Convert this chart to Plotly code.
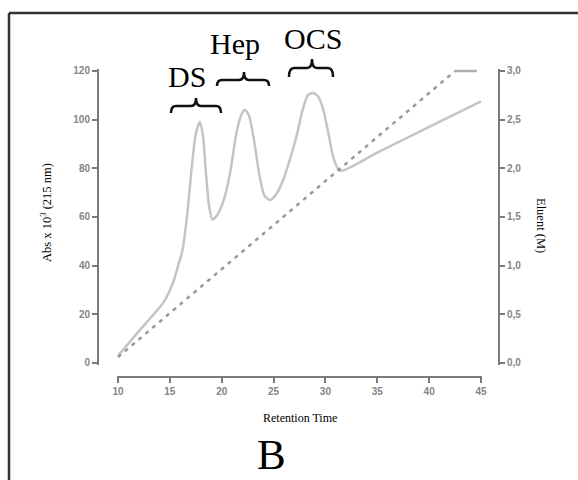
import plotly.graph_objects as go

# ---------------- data ----------------
time_abs = [10, 12, 14.4, 15.3, 15.8, 16.2, 16.7, 17.1, 17.5, 17.9, 18.2, 18.5, 18.8, 19.1,
            19.6, 20.2, 20.8, 21.4, 21.8, 22.2, 22.6, 23.1, 23.6, 24.1, 24.6,
            25.2, 26.0, 26.6, 27.2, 27.8, 28.3, 28.8, 29.3, 29.8, 30.3, 30.8, 31.4,
            35, 40, 45]
absorbance = [3, 13, 25, 33, 40, 46, 62, 80, 94, 99, 93, 77, 64, 59,
              61, 67, 78, 94, 101, 104, 102, 92, 78, 69, 67,
              69, 76, 84, 93, 104, 110, 111, 109.5, 104, 94, 84, 79,
              86.5, 97, 107.5]

time_grad = [10, 42.5]
eluent_grad = [0.06, 3.0]
time_plateau = [42.5, 44.6]
eluent_plateau = [3.0, 3.0]

x_ticks = [10, 15, 20, 25, 30, 35, 40, 45]
y_ticks = [0, 20, 40, 60, 80, 100, 120]
y2_ticks = [0.0, 0.5, 1.0, 1.5, 2.0, 2.5, 3.0]

peak_labels = ["DS", "Hep", "OCS"]

# ---------------- layout helpers (pixel -> paper) ----------------
W, H = 578, 480
def px(x):
    return x / W
def py(y):
    return (H - y) / H

# x: 10 -> 118 px, 45 -> 481 px ; y: 0 -> 363 px, 120 -> 71 px
xr = [9.9, 45.1]
xs = (481 - 118) / 35.0
x_dom = [px(118 + (xr[0] - 10) * xs), px(118 + (xr[1] - 10) * xs)]
yr = [-1, 121]
ys = (363 - 71) / 120.0
y_dom = [py(363 - (yr[0]) * ys), py(363 - (yr[1]) * ys)]
y2r = [yr[0] / 40.0, yr[1] / 40.0]

fig = go.Figure()
fig.add_trace(go.Scatter(x=time_abs, y=absorbance, mode="lines",
                         line=dict(color="#c4c4c4", width=2.5, shape="spline", smoothing=0.7),
                         showlegend=False, hoverinfo="skip"))
fig.add_trace(go.Scatter(x=time_grad, y=eluent_grad, mode="lines", yaxis="y2",
                         line=dict(color="#9a9a9a", width=2.5, dash="4px,5px"),
                         showlegend=False, hoverinfo="skip"))
fig.add_trace(go.Scatter(x=time_plateau, y=eluent_plateau, mode="lines", yaxis="y2",
                         line=dict(color="#b0b0b0", width=2.5),
                         showlegend=False, hoverinfo="skip"))

tickfont = dict(family="Liberation Sans, Arial, sans-serif", size=10, color="#858585", weight="bold")
axis_common = dict(showgrid=False, zeroline=False, showline=True, linecolor="#7a7a7a",
                   linewidth=2, ticks="outside", ticklen=5, tickwidth=2, tickcolor="#7a7a7a",
                   tickfont=tickfont, automargin=False)

fig.update_layout(
    width=W, height=H, autosize=False,
    margin=dict(l=0, r=0, t=0, b=0, pad=0),
    paper_bgcolor="white", plot_bgcolor="white",
    separators=",.",
    xaxis=dict(domain=x_dom, range=xr, anchor="free", position=py(377),
               tickvals=x_ticks, **axis_common),
    yaxis=dict(domain=y_dom, range=yr, anchor="free", position=px(98),
               tickvals=y_ticks, **axis_common),
    yaxis2=dict(range=y2r, overlaying="y", side="right", anchor="free", position=px(499),
                tickvals=y2_ticks, tickformat=".1f", **axis_common),
)

serif = "Liberation Serif, Times New Roman, serif"
ann = []
# peak labels
for label, (cx, cy) in zip(peak_labels, [(187, 76), (235, 43), (313, 38)]):
    ann.append(dict(text=label, x=px(cx), y=py(cy), xref="paper", yref="paper",
                    showarrow=False, xanchor="center", yanchor="middle",
                    font=dict(family=serif, size=30, color="black")))
ann.append(dict(text="Retention Time", x=px(300), y=py(418), xref="paper", yref="paper",
                showarrow=False, xanchor="center", yanchor="middle",
                font=dict(family=serif, size=12, color="black")))
ann.append(dict(text="Abs x 10<sup>3</sup> (215 nm)", x=px(46), y=py(213), xref="paper", yref="paper",
                showarrow=False, xanchor="center", yanchor="middle", textangle=-90,
                font=dict(family=serif, size=12.5, color="black")))
ann.append(dict(text="Eluent (M)", x=px(541), y=py(225), xref="paper", yref="paper",
                showarrow=False, xanchor="center", yanchor="middle", textangle=90,
                font=dict(family=serif, size=12.5, color="black")))
ann.append(dict(text="B", x=px(271), y=0, xref="paper", yref="paper",
                showarrow=False, xanchor="center", yanchor="bottom",
                font=dict(family=serif, size=43, color="black")))
fig.update_layout(annotations=ann)

# curly braces above peaks
def brace(x0, x1, xc, yend, ybar, ytip, r=5):
    pts = [
        ("M", [(x0, yend)]),
        ("Q", [(x0, ybar), (x0 + r, ybar)]),
        ("L", [(xc - r, ybar)]),
        ("Q", [(xc, ybar), (xc, ytip)]),
        ("Q", [(xc, ybar), (xc + r, ybar)]),
        ("L", [(x1 - r, ybar)]),
        ("Q", [(x1, ybar), (x1, yend)]),
    ]
    s = ""
    for cmd, p in pts:
        s += cmd + " " + " ".join(f"{px(a):.5f},{py(b):.5f}" for a, b in p) + " "
    return s.strip()

shapes = []
for (x0, x1, xc, ye, yb, yt) in [(171, 221, 196, 113, 106, 98),
                                 (217, 269, 244, 86, 80, 72),
                                 (289, 333, 312, 77, 68, 59)]:
    shapes.append(dict(type="path", path=brace(x0, x1, xc, ye, yb, yt), xref="paper", yref="paper",
                       line=dict(color="#111111", width=2.5)))
# outer frame (top and left)
shapes.append(dict(type="line", xref="paper", yref="paper", x0=px(9), x1=1, y0=py(13), y1=py(13),
                   line=dict(color="#333333", width=2.5)))
shapes.append(dict(type="line", xref="paper", yref="paper", x0=px(9), x1=px(9), y0=py(13), y1=0,
                   line=dict(color="#333333", width=2.5)))
fig.update_layout(shapes=shapes)

fig.write_html("out.html", config={"displayModeBar": False},
               post_script="document.body.style.margin='0';document.body.style.overflow='hidden';")
